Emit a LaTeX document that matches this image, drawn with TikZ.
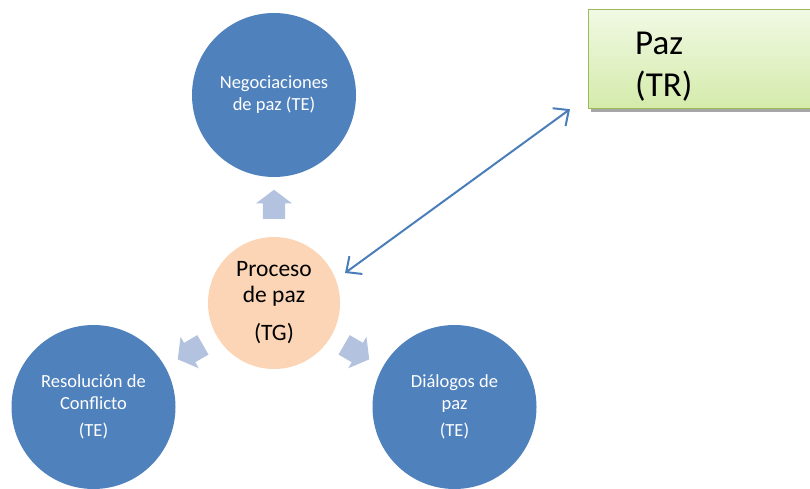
\documentclass[tikz,border=0pt]{standalone}
\usepackage{fontspec}
\setmainfont{Carlito}
\usetikzlibrary{shapes.arrows,arrows.meta,shadows,calc}
\definecolor{circblue}{HTML}{4F81BD}
\definecolor{peach}{HTML}{FBD5B5}
\definecolor{arrowc}{HTML}{B3C3DF}
\definecolor{linkblue}{HTML}{4A7EBB}
\definecolor{gtop}{HTML}{F1F9E4}
\definecolor{gbot}{HTML}{D4EBAB}
\definecolor{gborder}{HTML}{9BBB59}
\begin{document}
\begin{tikzpicture}[x=1pt,y=-1pt,
  bluecirc/.style={circle,fill=circblue,draw=none,minimum size=164pt,inner sep=0pt,text=white,align=center,font=\fontsize{18.5}{22}\selectfont},
  pgcirc/.style={circle,fill=peach,draw=none,minimum size=132pt,inner sep=0pt,align=center,font=\fontsize{23.5}{26}\selectfont},
  blockarr/.style={single arrow,fill=arrowc,draw=none,inner sep=0pt,single arrow head extend=7pt,single arrow tip angle=106,minimum height=29pt},
  trbox/.style={rectangle,draw=gborder,line width=1.2pt,top color=gtop,bottom color=gbot,minimum height=99pt,minimum width=300pt,drop shadow={shadow xshift=2pt,shadow yshift=-3pt,opacity=0.35,fill=black}},
  trtext/.style={inner sep=0pt,align=left,font=\fontsize{35}{42.4}\selectfont},
  link/.style={draw=linkblue,line width=2pt,{Straight Barb[length=12pt,width=22pt]}-{Straight Barb[length=12pt,width=22pt]}}
]
\useasboundingbox (0,0) rectangle (810,489);
\fill[white] (0,0) rectangle (810,489);
\node[bluecirc] (neg) at (274,95) {Negociaciones\\de paz (TE)};
\node[bluecirc] (res) at (93.5,407) {Resolución de\\Conflicto\\[5pt](TE)};
\node[bluecirc] (dia) at (454.5,407) {Diálogos de\\paz\\[5pt](TE)};
\node[pgcirc] (pg) at (274,303) {Proceso\\de paz\\[12pt](TG)};
\node[blockarr,rotate=90] (aup) at (274,208.5) {\rule{0pt}{22pt}};
\node[blockarr,rotate=210] (aleft) at (194,350) {\rule{0pt}{22pt}};
\node[blockarr,rotate=330] (aright) at (353,350) {\rule{0pt}{22pt}};
\node[trbox,anchor=north west] (tr) at (588,9) {};
\node[trtext,anchor=west] (trt) at (635,66.5) {Paz\\(TR)};
\draw[link] ($(pg.center)+(71,-30)$) -- ($(tr.south west)+(-18,0)$);
\end{tikzpicture}
\end{document}
